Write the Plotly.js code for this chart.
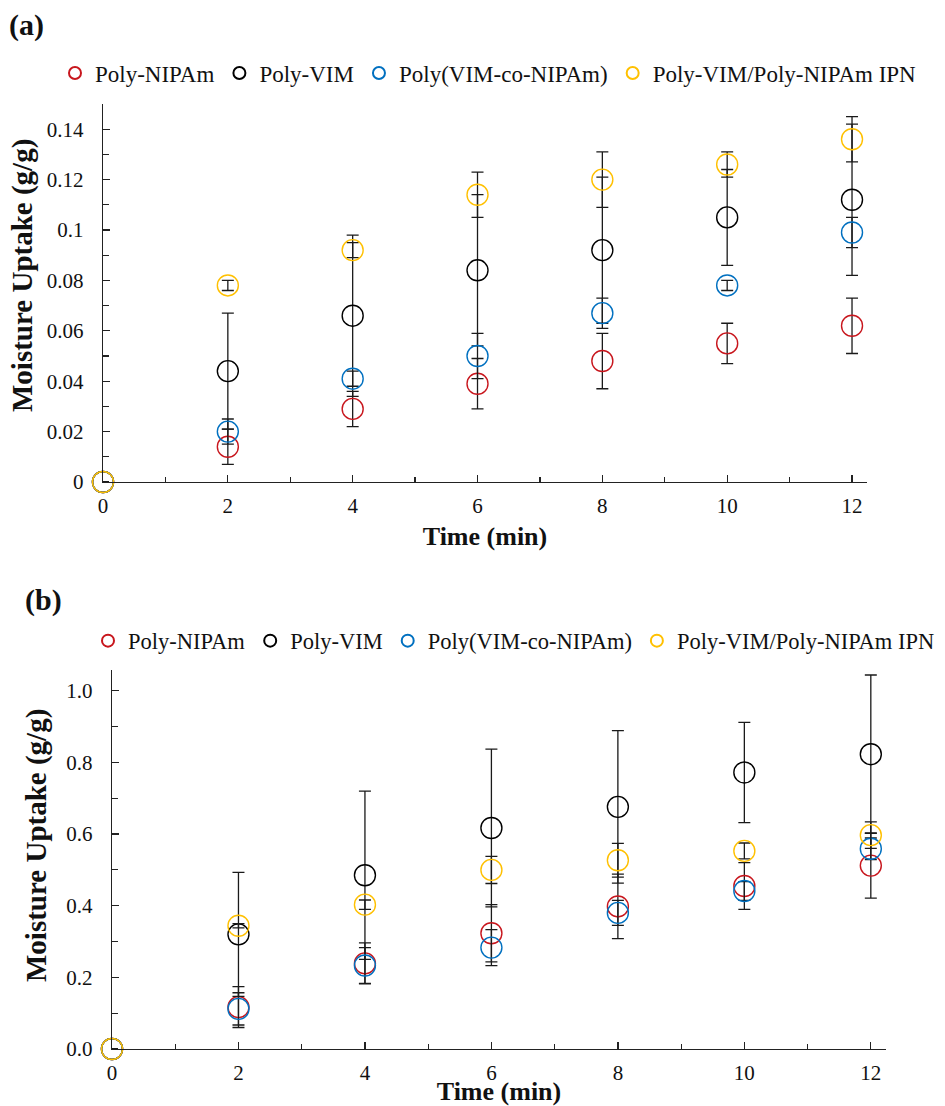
<!DOCTYPE html>
<html>
<head>
<meta charset="utf-8">
<script src="https://cdn.plot.ly/plotly-3.0.1.min.js"></script>
<style>
  html, body { margin: 0; padding: 0; background: #fff; }
  #chart { width: 945px; height: 1106px; }
</style>
</head>
<body>
<div id="chart"></div>
<script>
// Series names and colours shared by both panels
const seriesNames = ['Poly-NIPAm', 'Poly-VIM', 'Poly(VIM-co-NIPAm)', 'Poly-VIM/Poly-NIPAm IPN'];
const seriesColors = ['#C8161D', '#000000', '#0070C0', '#FFC000'];

// Sampling times (min)
const timeMin = [0, 2, 4, 6, 8, 10, 12];

// Panel (a): moisture uptake (g/g) and standard deviation
const uptakeA_nipam = [0, 0.014, 0.029, 0.039, 0.048, 0.055, 0.062];
const errA_nipam    = [0, 0.007, 0.007, 0.010, 0.011, 0.008, 0.011];
const uptakeA_vim   = [0, 0.044, 0.066, 0.084, 0.092, 0.105, 0.112];
const errA_vim      = [0, 0.023, 0.032, 0.030, 0.029, 0.019, 0.030];
const uptakeA_co    = [0, 0.020, 0.041, 0.050, 0.067, 0.078, 0.099];
const errA_co       = [0, 0.005, 0.003, 0.009, 0.006, 0.002, 0.006];
const uptakeA_ipn   = [0, 0.078, 0.092, 0.114, 0.120, 0.126, 0.136];
const errA_ipn      = [0, 0.002, 0.003, 0.009, 0.011, 0.005, 0.009];

// Panel (b): moisture uptake (g/g) and standard deviation
const uptakeB_nipam = [0, 0.117, 0.239, 0.323, 0.398, 0.455, 0.512];
const errB_nipam    = [0, 0.057, 0.057, 0.080, 0.090, 0.065, 0.091];
const uptakeB_vim   = [0, 0.320, 0.485, 0.617, 0.676, 0.772, 0.823];
const errB_vim      = [0, 0.173, 0.235, 0.220, 0.213, 0.140, 0.221];
const uptakeB_co    = [0, 0.112, 0.233, 0.283, 0.380, 0.441, 0.559];
const errB_co       = [0, 0.045, 0.050, 0.050, 0.035, 0.026, 0.030];
const uptakeB_ipn   = [0, 0.344, 0.403, 0.500, 0.527, 0.553, 0.597];
const errB_ipn      = [0, 0.006, 0.013, 0.038, 0.047, 0.022, 0.037];

// Tick labels
const xTickVals = [0, 2, 4, 6, 8, 10, 12];
const xTickText = ['0', '2', '4', '6', '8', '10', '12'];
const yTickValsA = [0, 0.02, 0.04, 0.06, 0.08, 0.10, 0.12, 0.14];
const yTickTextA = ['0', '0.02', '0.04', '0.06', '0.08', '0.1', '0.12', '0.14'];
const yTickValsB = [0, 0.2, 0.4, 0.6, 0.8, 1.0];
const yTickTextB = ['0.0', '0.2', '0.4', '0.6', '0.8', '1.0'];

// Axis and panel titles
const xTitle = 'Time (min)';
const yTitle = 'Moisture Uptake (g/g)';
const panelLabels = ['(a)', '(b)'];

const SERIF = 'Liberation Serif, Times New Roman, serif';
const W = 945, H = 1106;

function makeTraces(ys, errs, xa, ya, legendId) {
  return ys.map((y, i) => ({
    type: 'scatter',
    mode: 'markers',
    name: seriesNames[i],
    x: timeMin,
    y: y,
    xaxis: xa,
    yaxis: ya,
    legend: legendId,
    cliponaxis: false,
    marker: {
      symbol: 'circle-open',
      size: 21,
      color: seriesColors[i],
      line: { width: 1.4, color: seriesColors[i] }
    },
    error_y: {
      type: 'data',
      array: errs[i],
      visible: true,
      color: '#1a1a1a',
      thickness: 1.3,
      width: 6
    },
    hoverinfo: 'x+y+name'
  }));
}

const tracesA = makeTraces(
  [uptakeA_nipam, uptakeA_vim, uptakeA_co, uptakeA_ipn],
  [errA_nipam, errA_vim, errA_co, errA_ipn],
  'x', 'y', 'legend');
const tracesB = makeTraces(
  [uptakeB_nipam, uptakeB_vim, uptakeB_co, uptakeB_ipn],
  [errB_nipam, errB_vim, errB_co, errB_ipn],
  'x2', 'y2', 'legend2');

// Pixel boxes of the two plotting areas
const boxA = { l: 103, r: 867, t: 104, b: 482 };
const boxB = { l: 112, r: 886, t: 670, b: 1049 };

function xAxis(box, anchor, standoff) {
  return {
    domain: [box.l / W, box.r / W],
    anchor: anchor,
    range: [0, 12.24],
    tickmode: 'array',
    tickvals: xTickVals,
    ticktext: xTickText,
    ticks: 'inside',
    ticklen: 7,
    tickwidth: 1.3,
    tickcolor: '#222',
    minor: { dtick: 1, ticks: 'inside', ticklen: 5, tickwidth: 1.2, tickcolor: '#222' },
    showline: true,
    linecolor: '#222',
    linewidth: 1.4,
    showgrid: false,
    zeroline: false,
    tickfont: { family: SERIF, size: 21, color: '#111' },
    ticklabelstandoff: 4,
    title: {
      text: '<b>' + xTitle + '</b>',
      font: { family: SERIF, size: 26, color: '#111' },
      standoff: standoff
    }
  };
}

function yAxis(box, anchor, range, vals, text, minorStep) {
  return {
    domain: [(H - box.b) / H, (H - box.t) / H],
    anchor: anchor,
    range: range,
    tickmode: 'array',
    tickvals: vals,
    ticktext: text,
    ticks: 'inside',
    ticklen: 7,
    tickwidth: 1.3,
    tickcolor: '#222',
    minor: { dtick: minorStep, ticks: 'inside', ticklen: 6, tickwidth: 1.2, tickcolor: '#222' },
    showline: true,
    linecolor: '#222',
    linewidth: 1.4,
    showgrid: false,
    zeroline: false,
    tickfont: { family: SERIF, size: 21, color: '#111' },
    ticklabelstandoff: 14
  };
}

const legendCommon = {
  orientation: 'h',
  xanchor: 'left',
  yanchor: 'middle',
  bgcolor: 'rgba(0,0,0,0)',
  itemsizing: 'constant',
  traceorder: 'normal'
};

// Vertical y-axis titles, placed beside each panel's tick labels
function yTitleNote(cx, cy) {
  return {
    text: '<b>' + yTitle + '</b>', textangle: -90,
    xref: 'paper', yref: 'paper', x: cx / W, y: 1 - cy / H,
    xanchor: 'center', yanchor: 'middle', showarrow: false,
    font: { family: SERIF, size: 29, color: '#111' }
  };
}

function panelNote(text, lx, cy) {
  return {
    text: '<b>' + text + '</b>',
    xref: 'paper', yref: 'paper', x: lx / W, y: 1 - cy / H,
    xanchor: 'left', yanchor: 'middle', showarrow: false,
    font: { family: SERIF, size: 30, color: '#111' }
  };
}

const layout = {
  width: W,
  height: H,
  margin: { l: 0, r: 0, t: 0, b: 0 },
  paper_bgcolor: '#fff',
  plot_bgcolor: '#fff',
  showlegend: true,
  xaxis: xAxis(boxA, 'y', 10),
  yaxis: yAxis(boxA, 'x', [0, 0.15], yTickValsA, yTickTextA, 0.01),
  xaxis2: xAxis(boxB, 'y2', 2),
  yaxis2: yAxis(boxB, 'x2', [0, 1.058], yTickValsB, yTickTextB, 0.1),
  legend: Object.assign({}, legendCommon, {
    x: 55 / W, y: 1 - 73 / H,
    font: { family: SERIF, size: 23, color: '#111' }
  }),
  legend2: Object.assign({}, legendCommon, {
    x: 88 / W, y: 1 - 641 / H,
    font: { family: SERIF, size: 22.5, color: '#111' }
  }),
  annotations: [
    panelNote(panelLabels[0], 7, 25),
    panelNote(panelLabels[1], 23, 600),
    yTitleNote(23, 276),
    yTitleNote(36, 846)
  ]
};

Plotly.newPlot('chart', tracesA.concat(tracesB), layout, { displayModeBar: false, staticPlot: true });
</script>
</body>
</html>
